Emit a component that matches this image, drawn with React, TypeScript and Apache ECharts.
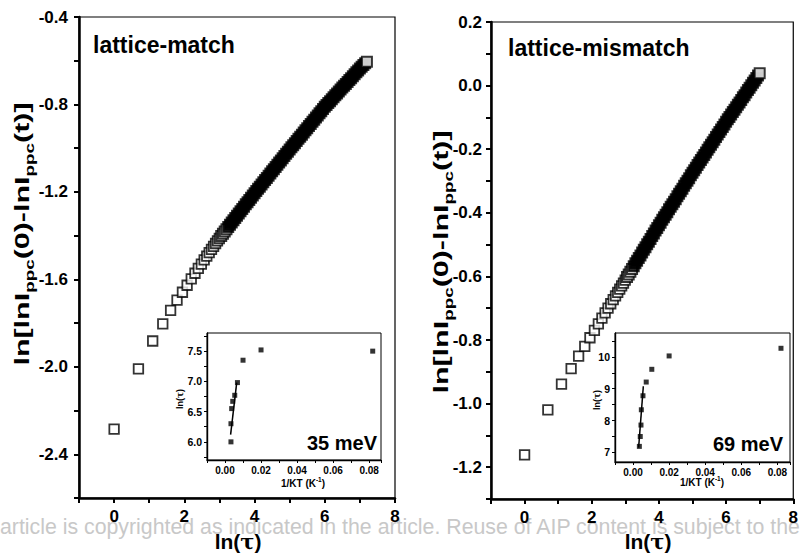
import React, { useEffect, useRef } from 'react';
import * as echarts from 'echarts';

const FF = '"Liberation Sans", Arial, Helvetica, sans-serif';

// ---------- main panels: ln(tau) vs ln[lnIppc(0)-lnIppc(t)] ----------
// resolved early squares
const matchSparse: [number, number][] = [
  [0, -2.285], [0.693, -2.009], [1.099, -1.882], [1.386, -1.804], [1.609, -1.742],
  [1.792, -1.695], [1.946, -1.659], [2.079, -1.627], [2.197, -1.598], [2.303, -1.572],
  [2.398, -1.55], [2.485, -1.53], [2.565, -1.511], [2.639, -1.494], [2.708, -1.478],
  [2.773, -1.463], [2.833, -1.449], [2.89, -1.436], [2.944, -1.424], [2.996, -1.413],
];
// dense (merged) part of the band
const matchDense: [number, number][] = [
  [3.05, -1.402], [3.1, -1.391], [3.15, -1.381], [3.2, -1.371], [3.25, -1.36],
  [3.3, -1.35], [3.35, -1.34], [3.4, -1.33], [3.45, -1.319], [3.5, -1.309],
  [3.55, -1.299], [3.6, -1.288], [3.65, -1.278], [3.7, -1.268], [3.75, -1.257],
  [3.8, -1.247], [3.85, -1.237], [3.9, -1.227], [3.95, -1.216], [4.0, -1.206],
  [4.05, -1.196], [4.1, -1.186], [4.15, -1.176], [4.2, -1.166], [4.25, -1.156],
  [4.3, -1.146], [4.35, -1.136], [4.4, -1.126], [4.45, -1.116], [4.5, -1.106],
  [4.55, -1.096], [4.6, -1.086], [4.65, -1.076], [4.7, -1.066], [4.75, -1.056],
  [4.8, -1.046], [4.85, -1.036], [4.9, -1.026], [4.95, -1.016], [5.0, -1.006],
  [5.05, -0.996], [5.1, -0.987], [5.15, -0.977], [5.2, -0.967], [5.25, -0.957],
  [5.3, -0.948], [5.35, -0.938], [5.4, -0.928], [5.45, -0.918], [5.5, -0.909],
  [5.55, -0.899], [5.6, -0.889], [5.65, -0.879], [5.7, -0.87], [5.75, -0.86],
  [5.8, -0.85], [5.85, -0.84], [5.9, -0.831], [5.95, -0.821], [6.0, -0.811],
  [6.05, -0.802], [6.1, -0.793], [6.15, -0.785], [6.2, -0.776], [6.25, -0.767],
  [6.3, -0.758], [6.35, -0.75], [6.4, -0.741], [6.45, -0.732], [6.5, -0.723],
  [6.55, -0.715], [6.6, -0.706], [6.65, -0.697], [6.7, -0.688], [6.75, -0.68],
  [6.8, -0.671], [6.85, -0.662], [6.9, -0.653], [6.95, -0.645], [7.0, -0.636],
  [7.05, -0.628], [7.1, -0.62], [7.15, -0.611], [7.2, -0.605],
];

const mismatchSparse: [number, number][] = [
  [0, -1.161], [0.693, -1.02], [1.099, -0.939], [1.386, -0.89], [1.609, -0.851],
  [1.792, -0.82], [1.946, -0.793], [2.079, -0.77], [2.197, -0.749], [2.303, -0.731],
  [2.398, -0.715], [2.485, -0.7], [2.565, -0.686], [2.639, -0.673], [2.708, -0.661],
  [2.773, -0.65], [2.833, -0.64], [2.89, -0.63], [2.944, -0.621], [2.996, -0.612],
];
const mismatchDense: [number, number][] = [
  [3.05, -0.602], [3.1, -0.594], [3.15, -0.585], [3.2, -0.577], [3.25, -0.568],
  [3.3, -0.559], [3.35, -0.551], [3.4, -0.542], [3.45, -0.534], [3.5, -0.525],
  [3.55, -0.516], [3.6, -0.508], [3.65, -0.499], [3.7, -0.491], [3.75, -0.482],
  [3.8, -0.473], [3.85, -0.465], [3.9, -0.456], [3.95, -0.448], [4.0, -0.439],
  [4.05, -0.431], [4.1, -0.422], [4.15, -0.414], [4.2, -0.406], [4.25, -0.398],
  [4.3, -0.389], [4.35, -0.381], [4.4, -0.373], [4.45, -0.365], [4.5, -0.357],
  [4.55, -0.348], [4.6, -0.34], [4.65, -0.332], [4.7, -0.324], [4.75, -0.315],
  [4.8, -0.307], [4.85, -0.299], [4.9, -0.291], [4.95, -0.282], [5.0, -0.274],
  [5.05, -0.266], [5.1, -0.258], [5.15, -0.25], [5.2, -0.242], [5.25, -0.234],
  [5.3, -0.226], [5.35, -0.218], [5.4, -0.21], [5.45, -0.202], [5.5, -0.194],
  [5.55, -0.186], [5.6, -0.178], [5.65, -0.17], [5.7, -0.162], [5.75, -0.154],
  [5.8, -0.146], [5.85, -0.138], [5.9, -0.13], [5.95, -0.122], [6.0, -0.114],
  [6.05, -0.106], [6.1, -0.099], [6.15, -0.091], [6.2, -0.083], [6.25, -0.076],
  [6.3, -0.068], [6.35, -0.06], [6.4, -0.053], [6.45, -0.045], [6.5, -0.037],
  [6.55, -0.03], [6.6, -0.022], [6.65, -0.014], [6.7, -0.007], [6.75, 0.001],
  [6.8, 0.009], [6.85, 0.016], [6.9, 0.024], [6.95, 0.032], [7.0, 0.039],
];

// ---------- insets: 1/KT vs ln(tau) ----------
const matchInsetPoints: [number, number][] = [
  [0.0033, 6.0], [0.0033, 6.3], [0.0037, 6.55], [0.0043, 6.67], [0.0054, 6.77],
  [0.0069, 6.98], [0.01, 7.35], [0.02, 7.52], [0.082, 7.5],
];
const matchInsetFit: [number, number][] = [[0.0031, 6.12], [0.0065, 6.98]];

const mismatchInsetPoints: [number, number][] = [
  [0.0035, 7.19], [0.004, 7.5], [0.0044, 7.86], [0.0046, 8.34], [0.0055, 8.78],
  [0.0073, 9.21], [0.0104, 9.61], [0.02, 10.03], [0.082, 10.27],
];
const mismatchInsetFit: [number, number][] = [[0.0031, 7.15], [0.0057, 9.08]];

// ---------- tick labels ----------
const mainXLabels = [0, 2, 4, 6, 8];
const matchYLabels = [-2.4, -2.0, -1.6, -1.2, -0.8, -0.4];
const mismatchYLabels = [-1.2, -1.0, -0.8, -0.6, -0.4, -0.2, 0.0, 0.2];
const insetXLabels = [0, 0.02, 0.04, 0.06, 0.08];
const matchInsetYLabels = [6.0, 6.5, 7.0, 7.5];
const matchInsetYTicks = [5.75, 6.0, 6.25, 6.5, 6.75, 7.0, 7.25, 7.5, 7.75];
const mismatchInsetYLabels = [7, 8, 9, 10];
const mismatchInsetYTicks = [7, 7.5, 8, 8.5, 9, 9.5, 10, 10.5];

const WATERMARK =
  'article is copyrighted as indicated in the article. Reuse of AIP content is subject to the terms at:';

const only = (labels: number[], digits: number) => (v: number) =>
  labels.some((l) => Math.abs(l - v) < 1e-6)
    ? (Math.abs(v) < 1e-9 ? 0 : v).toFixed(digits)
    : '';

const mainLabel = { color: '#000', fontFamily: FF, fontWeight: 'bold' as const, fontSize: 17 };
const insetLabel = { color: '#000', fontFamily: FF, fontWeight: 'bold' as const, fontSize: 10 };

function mainX(grid: number) {
  return {
    type: 'value', gridIndex: grid, min: -1, max: 8, interval: 1,
    axisLine: { onZero: false, lineStyle: { color: '#000', width: 2.5 } },
    axisTick: { length: 5, lineStyle: { color: '#000', width: 2 } },
    axisLabel: { ...mainLabel, margin: 10, formatter: only(mainXLabels, 0) },
    splitLine: { show: false },
  };
}

function insetX(grid: number, max: number) {
  return {
    type: 'value', gridIndex: grid, min: -0.01, max, interval: 0.01,
    axisLine: { onZero: false, lineStyle: { color: '#000', width: 1.4 } },
    axisTick: { length: 3, lineStyle: { color: '#000', width: 1 } },
    axisLabel: { ...insetLabel, margin: 5, formatter: only(insetXLabels, 2) },
    splitLine: { show: false },
  };
}

function insetY(grid: number, min: number, max: number, ticks: number[], labels: number[], digits: number) {
  return {
    type: 'value', gridIndex: grid, min, max,
    axisLine: { onZero: false, lineStyle: { color: '#000', width: 1.4 } },
    axisTick: { length: 3, customValues: ticks, lineStyle: { color: '#000', width: 1 } },
    axisLabel: { ...insetLabel, fontSize: 10.5, margin: 5, customValues: labels, formatter: only(labels, digits) },
    splitLine: { show: false },
  };
}

const hollowSparse = { color: '#fff', borderColor: '#000', borderWidth: 1.8 };
// merged band: squares overlap into solid black, the last one stays open
const denseStyle = (count: number) => ({
  borderColor: '#000',
  borderWidth: 2,
  color: (p: any) => (p.dataIndex === count - 1 || p.dataIndex < 4 ? '#fff' : '#000'),
});

const yTitle = (x: number, y: number) => ({
  type: 'text', x, y, rotation: Math.PI / 2, scaleX: 1.45, silent: true,
  style: {
    text: '{a|ln[lnI}{s|ppc}{a|(0)-lnI}{s|ppc}{a|(t)]}',
    textAlign: 'center', textVerticalAlign: 'middle', align: 'center', verticalAlign: 'middle',
    fill: '#000',
    rich: {
      a: { fontSize: 21, fontWeight: 'bold', fontFamily: FF, fill: '#000', lineHeight: 28, verticalAlign: 'middle' },
      s: { fontSize: 13, fontWeight: 'bold', fontFamily: FF, fill: '#000', lineHeight: 13, verticalAlign: 'bottom' },
    },
  },
});

const xTitle = (x: number, y: number, size: number) => ({
  type: 'text', x, y, silent: true,
  style: {
    text: '{a|ln(}{t|τ}{a|)}',
    textAlign: 'center', textVerticalAlign: 'middle', align: 'center', verticalAlign: 'middle',
    fill: '#000',
    rich: {
      a: { fontSize: size, fontWeight: 'bold', fontFamily: FF, fill: '#000' },
      t: { fontSize: size, fontWeight: 'bold', fontFamily: '"DejaVu Serif", "Liberation Serif", serif', fill: '#000' },
    },
  },
});

const insetYTitle = (x: number, y: number) => ({ ...xTitle(x, y, 9), rotation: Math.PI / 2 });

const insetXTitle = (x: number, y: number) => ({
  type: 'text', x, y, silent: true,
  style: {
    text: '{a|1/KT (K}{p|-1}{a|)}',
    textAlign: 'center', textVerticalAlign: 'middle', align: 'center', verticalAlign: 'middle',
    fill: '#000',
    rich: {
      a: { fontSize: 10, fontWeight: 'bold', fontFamily: FF, fill: '#000', lineHeight: 12, verticalAlign: 'bottom' },
      p: { fontSize: 6.5, fontWeight: 'bold', fontFamily: FF, fill: '#000', lineHeight: 12, verticalAlign: 'top' },
    },
  },
});

const boldText = (text: string, x: number, y: number, size: number, align: string) => ({
  type: 'text', x, y, silent: true,
  style: {
    text, fill: '#000', font: `bold ${size}px ${FF}`,
    textAlign: align, textVerticalAlign: 'middle', align, verticalAlign: 'middle',
  },
});

const option = {
  animation: false,
  backgroundColor: '#fff',
  grid: [
    { left: 79, top: 17, width: 316, height: 481, show: true, borderColor: '#000', borderWidth: 1.2, backgroundColor: 'transparent' },
    { left: 207, top: 333, width: 174, height: 127, show: true, borderColor: '#000', borderWidth: 1, backgroundColor: '#fff' },
    { left: 491, top: 22, width: 320, height: 477, show: true, borderColor: '#000', borderWidth: 1.2, backgroundColor: 'transparent' },
    { left: 615, top: 333, width: 175, height: 129, show: true, borderColor: '#000', borderWidth: 1, backgroundColor: '#fff' },
  ],
  xAxis: [mainX(0), insetX(1, 0.0866), mainX(2), insetX(3, 0.087)],
  yAxis: [
    {
      type: 'value', gridIndex: 0, min: -2.6, max: -0.4, interval: 0.2,
      axisLine: { onZero: false, lineStyle: { color: '#000', width: 2.5 } },
      axisTick: { length: 5, lineStyle: { color: '#000', width: 2 } },
      axisLabel: { ...mainLabel, margin: 11, formatter: only(matchYLabels, 1) },
      splitLine: { show: false },
    },
    insetY(1, 5.7, 7.8, matchInsetYTicks, matchInsetYLabels, 1),
    {
      type: 'value', gridIndex: 2, min: -1.3, max: 0.2, interval: 0.1,
      axisLine: { onZero: false, lineStyle: { color: '#000', width: 2.5 } },
      axisTick: { length: 5, lineStyle: { color: '#000', width: 2 } },
      axisLabel: { ...mainLabel, margin: 9, formatter: only(mismatchYLabels, 1) },
      splitLine: { show: false },
    },
    insetY(3, 6.7, 10.75, mismatchInsetYTicks, mismatchInsetYLabels, 0),
  ],
  series: [
    { type: 'scatter', xAxisIndex: 0, yAxisIndex: 0, data: matchSparse, symbol: 'rect', symbolSize: 9.5, itemStyle: hollowSparse, z: 3 },
    { type: 'scatter', xAxisIndex: 0, yAxisIndex: 0, data: matchDense, symbol: 'rect', symbolSize: 10, itemStyle: denseStyle(matchDense.length), z: 3 },
    { type: 'scatter', xAxisIndex: 1, yAxisIndex: 1, data: matchInsetPoints, symbol: 'rect', symbolSize: 5, itemStyle: { color: '#000' }, z: 5 },
    { type: 'line', xAxisIndex: 1, yAxisIndex: 1, data: matchInsetFit, showSymbol: false, lineStyle: { color: '#000', width: 1.5 }, z: 4 },
    { type: 'scatter', xAxisIndex: 2, yAxisIndex: 2, data: mismatchSparse, symbol: 'rect', symbolSize: 9.5, itemStyle: hollowSparse, z: 3 },
    { type: 'scatter', xAxisIndex: 2, yAxisIndex: 2, data: mismatchDense, symbol: 'rect', symbolSize: 10, itemStyle: denseStyle(mismatchDense.length), z: 3 },
    { type: 'scatter', xAxisIndex: 3, yAxisIndex: 3, data: mismatchInsetPoints, symbol: 'rect', symbolSize: 5, itemStyle: { color: '#000' }, z: 5 },
    { type: 'line', xAxisIndex: 3, yAxisIndex: 3, data: mismatchInsetFit, showSymbol: false, lineStyle: { color: '#000', width: 1.5 }, z: 4 },
  ],
  graphic: [
    {
      type: 'text', x: 0, y: 527, silent: true, z: -1,
      style: { text: WATERMARK, fill: '#c8c8c8', font: `21.3px ${FF}`, textVerticalAlign: 'middle', verticalAlign: 'middle' },
    },
    boldText('lattice-match', 93, 45, 23, 'left'),
    boldText('lattice-mismatch', 508, 48, 23, 'left'),
    yTitle(22, 234),
    yTitle(441, 262),
    xTitle(238, 541, 21),
    xTitle(648, 541, 21),
    insetYTitle(180, 399),
    insetYTitle(597, 400),
    insetXTitle(303, 482),
    insetXTitle(702, 481),
    boldText('35 meV', 377, 443, 20, 'right'),
    boldText('69 meV', 783, 444, 20, 'right'),
  ],
};

export default function App() {
  const ref = useRef<HTMLDivElement>(null);
  useEffect(() => {
    const chart = echarts.init(ref.current as HTMLDivElement, null, { renderer: 'svg' });
    chart.setOption(option as any);
    return () => chart.dispose();
  }, []);
  return (
    <div
      ref={ref}
      style={{ position: 'fixed', left: 0, top: 0, width: 801, height: 553, background: '#fff' }}
    />
  );
}
